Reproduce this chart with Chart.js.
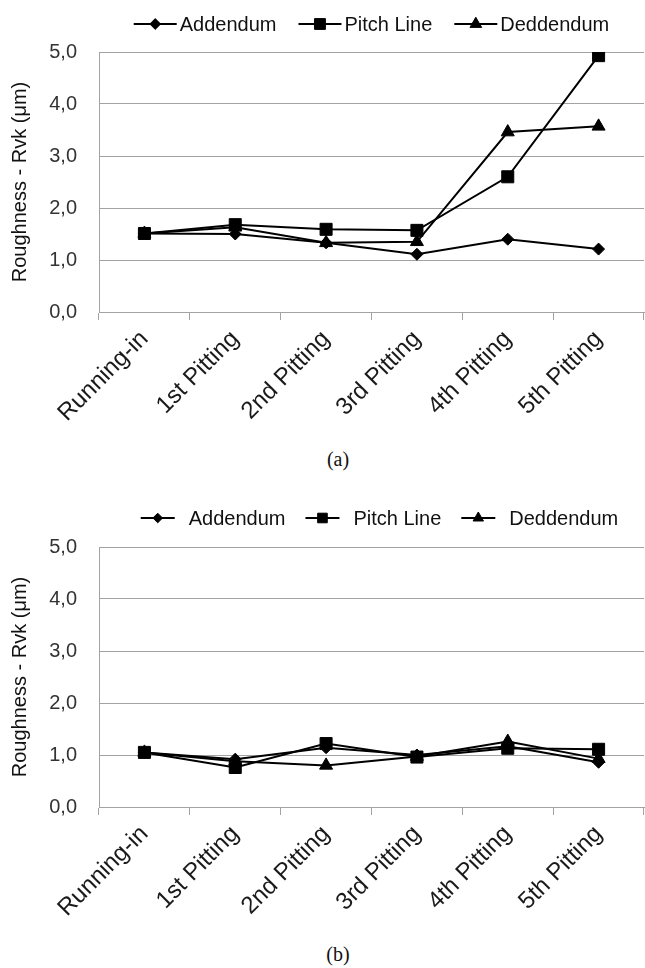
<!DOCTYPE html>
<html>
<head>
<meta charset="utf-8">
<script src="https://cdn.jsdelivr.net/npm/chart.js@4.4.0/dist/chart.umd.min.js"></script>
<style>
  body { margin: 0; background: #fff; width: 645px; height: 968px; position: relative; overflow: hidden; }
  .box { position: absolute; left: 0; width: 645px; height: 445px; }
  .cap { position: absolute; left: 0; width: 676px; text-align: center; font-family: 'Liberation Serif', 'Times New Roman', serif; font-size: 20px; color: #111; }
</style>
</head>
<body>
<div class="box" style="top:0"><canvas id="chartA" width="645" height="445"></canvas></div>
<div class="cap" style="top:448px">(a)</div>
<div class="box" style="top:495px"><canvas id="chartB" width="645" height="445"></canvas></div>
<div class="cap" style="top:943px">(b)</div>
<script>
// categorias e valores
const stages = ['Running-in', '1st Pitting', '2nd Pitting', '3rd Pitting', '4th Pitting', '5th Pitting'];

// (a)
const addendumA = [1.51, 1.50, 1.33, 1.11, 1.40, 1.21];
const pitchLineA = [1.51, 1.68, 1.59, 1.57, 2.60, 4.93];
const deddendumA = [1.51, 1.63, 1.33, 1.35, 3.46, 3.57];

// (b)
const addendumB = [1.05, 0.92, 1.14, 1.00, 1.17, 0.86];
const pitchLineB = [1.05, 0.76, 1.22, 0.96, 1.13, 1.11];
const deddendumB = [1.05, 0.88, 0.80, 0.97, 1.26, 0.93];

const FONT = "'Liberation Sans', Arial, sans-serif";
const GRID = '#a3a3a3';

// desenha o marcador da legenda
function drawMarker(ctx, style, r, x, y) {
  ctx.beginPath();
  if (style === 'rect') {
    const s = r * Math.SQRT1_2;
    ctx.rect(x - s, y - s, 2 * s, 2 * s);
  } else if (style === 'rectRot') {
    ctx.moveTo(x - r, y); ctx.lineTo(x, y - r); ctx.lineTo(x + r, y); ctx.lineTo(x, y + r);
    ctx.closePath();
  } else {
    for (let k = 0; k < 3; k++) {
      const a = k * 2 * Math.PI / 3;
      const px = x + Math.sin(a) * r, py = y - Math.cos(a) * r;
      if (k === 0) ctx.moveTo(px, py); else ctx.lineTo(px, py);
    }
    ctx.closePath();
  }
  ctx.fill();
  ctx.stroke();
}

// legenda com linha + marcador
const lineLegend = {
  id: 'lineLegend',
  afterDraw(chart, args, opts) {
    const ctx = chart.ctx;
    const area = chart.chartArea;
    const items = chart.data.datasets;
    ctx.save();
    ctx.font = '20px ' + FONT;
    const widths = items.map(d => ctx.measureText(d.label).width);
    const total = widths.reduce((a, b) => a + b, 0) + items.length * (opts.lineLen + opts.textGap) + (items.length - 1) * opts.itemGap;
    let x = (area.left + area.right) / 2 - total / 2 + opts.shift;
    const y = opts.y;
    items.forEach((d, i) => {
      ctx.strokeStyle = '#000';
      ctx.fillStyle = '#000';
      ctx.lineWidth = 2;
      ctx.beginPath();
      ctx.moveTo(x, y);
      ctx.lineTo(x + opts.lineLen, y);
      ctx.stroke();
      ctx.lineWidth = 1;
      drawMarker(ctx, d.pointStyle, d.pointRadius * opts.scale, x + opts.lineLen / 2, y);
      ctx.fillStyle = '#111';
      ctx.textBaseline = 'middle';
      ctx.textAlign = 'left';
      ctx.fillText(d.label, x + opts.lineLen + opts.textGap, y + 1);
      x += opts.lineLen + opts.textGap + widths[i] + opts.itemGap;
    });
    ctx.restore();
  }
};

function series(label, data, style, radius) {
  return {
    label: label,
    data: data,
    borderColor: '#000',
    backgroundColor: '#000',
    borderWidth: 2,
    pointStyle: style,
    pointRadius: radius,
    pointHoverRadius: radius,
    pointBackgroundColor: '#000',
    pointBorderColor: '#000',
    pointBorderWidth: 1,
    tension: 0,
    fill: false
  };
}

function makeChart(id, addendum, pitchLine, deddendum, legendOpts) {
  const ctx = document.getElementById(id).getContext('2d');
  return new Chart(ctx, {
    type: 'line',
    data: {
      labels: stages,
      datasets: [
        series('Addendum', addendum, 'rectRot', 6),
        series('Pitch Line', pitchLine, 'rect', 8.5),
        series('Deddendum', deddendum, 'triangle', 7.5)
      ]
    },
    options: {
      responsive: false,
      animation: false,
      layout: { autoPadding: false, padding: { top: 52, right: 1, bottom: 0, left: 0 } },
      plugins: {
        legend: { display: false },
        tooltip: { enabled: false },
        lineLegend: legendOpts
      },
      scales: {
        x: {
          offset: true,
          grid: { offset: true, drawOnChartArea: false, drawTicks: true, tickLength: 8, color: GRID },
          border: { color: GRID, width: 1 },
          ticks: { minRotation: 45, maxRotation: 45, padding: 5, color: '#1a1a1a', font: { family: FONT, size: 24 } },
          afterFit(scale) { scale.height = 133; }
        },
        y: {
          min: 0,
          max: 5,
          ticks: {
            stepSize: 1,
            padding: 22,
            color: '#333',
            font: { family: FONT, size: 20 },
            callback: (v) => v.toFixed(1).replace('.', ',')
          },
          grid: { color: GRID, drawTicks: false },
          border: { color: GRID, width: 1 },
          title: {
            display: true,
            text: 'Roughness - Rvk (μm)',
            color: '#111',
            font: { family: FONT, size: 20 },
            padding: { top: 8, bottom: 0 }
          },
          afterFit(scale) { scale.width = 99; }
        }
      }
    },
    plugins: [lineLegend]
  });
}

makeChart('chartA', addendumA, pitchLineA, deddendumA, { y: 24, lineLen: 43, textGap: 3, itemGap: 22, shift: 0, scale: 0.9 });
makeChart('chartB', addendumB, pitchLineB, deddendumB, { y: 23, lineLen: 34, textGap: 14, itemGap: 20, shift: 8, scale: 0.8 });
</script>
</body>
</html>
